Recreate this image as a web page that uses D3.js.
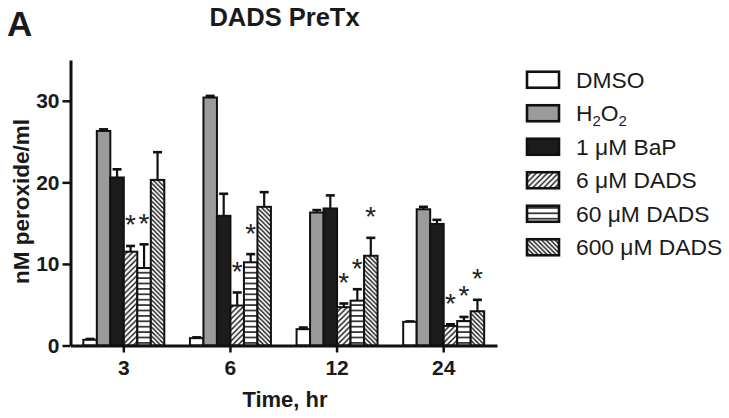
<!DOCTYPE html>
<html><head><meta charset="utf-8">
<script src="https://cdn.jsdelivr.net/npm/d3@7"></script>
<style>
body{margin:0;background:#fff;}
svg text{font-family:"Liberation Sans",Arial,sans-serif;}
</style></head>
<body><svg id="c" width="729" height="418"></svg>
<script>
const categories = ["3","6","12","24"];
const seriesNames = ["DMSO","H2O2","1 μM BaP","6 μM DADS","60 μM DADS","600 μM DADS"];
const dmso      = [0.7, 0.9, 2.0, 2.9];
const h2o2      = [26.3, 30.4, 16.3, 16.7];
const bap       = [20.6, 15.9, 16.8, 14.9];
const dads6     = [11.5, 4.9, 4.7, 2.4];
const dads60    = [9.5, 10.2, 5.5, 3.0];
const dads600   = [20.3, 17.0, 11.0, 4.2];
const dmsoErr   = [0.1, 0.1, 0.2, 0.05];
const h2o2Err   = [0.2, 0.2, 0.3, 0.3];
const bapErr    = [1.0, 2.7, 1.6, 0.5];
const dads6Err  = [0.7, 1.6, 0.45, 0.2];
const dads60Err = [2.9, 1.0, 1.4, 0.5];
const dads600Err= [3.4, 1.8, 2.2, 1.4];
const dmsoSig   = [0,0,0,0];
const h2o2Sig   = [0,0,0,0];
const bapSig    = [0,0,0,0];
const dads6Sig  = [1,1,1,1];
const dads60Sig = [1,1,1,1];
const dads600Sig= [0,0,1,1];
const yTicks = [0,10,20,30];

const values = [dmso,h2o2,bap,dads6,dads60,dads600];
const errs = [dmsoErr,h2o2Err,bapErr,dads6Err,dads60Err,dads600Err];
const sigs = [dmsoSig,h2o2Sig,bapSig,dads6Sig,dads60Sig,dads600Sig];
const fills = ["#ffffff","#9b9b9b","#1c1c1c","url(#pFwd)","url(#pHor)","url(#pBack)"];

const svg = d3.select("#c");
const defs = svg.append("defs");
function diag(id, w, dir){
  const p = defs.append("pattern").attr("id",id).attr("patternUnits","userSpaceOnUse")
    .attr("width",w).attr("height",w);
  p.append("rect").attr("width",w).attr("height",w).attr("fill","#fff");
  const d = dir>0
    ? `M0,${w} L${w},0 M${-w/2},${w/2} L${w/2},${-w/2} M${w/2},${1.5*w} L${1.5*w},${w/2}`
    : `M0,0 L${w},${w} M${-w/2},${w/2} L${w/2},${1.5*w} M${w/2},${-w/2} L${1.5*w},${w/2}`;
  p.append("path").attr("d",d).attr("stroke","#111").attr("stroke-width",1.4);
}
diag("pFwd",5.5,1);
diag("pBack",4.5,-1);
const ph = defs.append("pattern").attr("id","pHor").attr("patternUnits","userSpaceOnUse")
  .attr("width",10).attr("height",5.4);
ph.append("rect").attr("width",10).attr("height",5.4).attr("fill","#fff");
ph.append("line").attr("x1",0).attr("x2",10).attr("y1",2.7).attr("y2",2.7).attr("stroke","#111").attr("stroke-width",1.5);

const x0 = d3.scaleBand().domain(categories).range([70.5,497]).padding(0);
const x1 = d3.scaleBand().domain(seriesNames).range([0,x0.bandwidth()]).paddingInner(0).paddingOuter(0.95);
const y = d3.scaleLinear().domain([0,35]).range([345.5,60]);

const g = svg.append("g");
categories.forEach((c,ci)=>{
  seriesNames.forEach((s,si)=>{
    const v = values[si][ci], e = errs[si][ci];
    const bx = x0(c)+x1(s), bw = x1.bandwidth(), cx = bx+bw/2;
    g.append("line").attr("x1",cx).attr("x2",cx).attr("y1",y(v)).attr("y2",y(v+e))
      .attr("stroke","#111").attr("stroke-width",2.2);
    g.append("line").attr("x1",cx-4.5).attr("x2",cx+4.5).attr("y1",y(v+e)).attr("y2",y(v+e))
      .attr("stroke","#111").attr("stroke-width",2.6);
    g.append("rect").attr("x",bx).attr("y",y(v)).attr("width",bw).attr("height",y(0)-y(v))
      .attr("fill",fills[si]).attr("stroke","#111").attr("stroke-width",2);
    if(sigs[si][ci]){
      g.append("text").attr("x",cx).attr("y",y(v+e)-27+15.4).attr("text-anchor","middle")
        .attr("font-size",28).attr("fill","#222").text("*");
    }
  });
});

const yAxis = svg.append("g").attr("transform","translate(70.5,0)")
  .call(d3.axisLeft(y).tickValues(yTicks).tickSize(8).tickPadding(3).tickSizeOuter(0));
const xAxis = svg.append("g").attr("transform",`translate(0,${y(0)})`)
  .call(d3.axisBottom(x0).tickSize(7).tickPadding(8).tickSizeOuter(0));
[yAxis,xAxis].forEach(a=>{
  a.select(".domain").attr("stroke","#111").attr("stroke-width",3);
  a.selectAll(".tick line").attr("stroke","#111").attr("stroke-width",2.5);
  a.selectAll(".tick text").attr("font-family","Liberation Sans, Arial, sans-serif")
    .attr("font-weight","bold").attr("font-size",21).attr("fill","#1a1a1a");
});

svg.append("text").attr("x",284.5).attr("y",26).attr("text-anchor","middle")
  .attr("font-weight","bold").attr("font-size",25.5).attr("fill","#1a1a1a").text("DADS PreTx");
svg.append("text").attr("x",7).attr("y",36).attr("font-weight","bold")
  .attr("font-size",35).attr("fill","#1a1a1a").text("A");
svg.append("text").attr("transform","translate(29,201.5) rotate(-90)").attr("text-anchor","middle")
  .attr("font-weight","bold").attr("font-size",22.5).attr("fill","#1a1a1a").text("nM peroxide/ml");
svg.append("text").attr("x",285).attr("y",406.5).attr("text-anchor","middle")
  .attr("font-weight","bold").attr("font-size",22).attr("fill","#1a1a1a").text("Time, hr");

const ly = d3.scaleBand().domain(seriesNames).range([63,264]);
seriesNames.forEach((s,si)=>{
  const yy = ly(s)+ly.bandwidth()/2;
  svg.append("rect").attr("x",527).attr("y",yy-8).attr("width",32).attr("height",16)
    .attr("fill",fills[si]).attr("stroke","#111").attr("stroke-width",2.6);
  const t = svg.append("text").attr("x",576).attr("y",yy+8.2).attr("font-size",22.8).attr("fill","#1a1a1a");
  if(s==="H2O2"){
    t.append("tspan").text("H");
    t.append("tspan").attr("font-size",15).attr("dy",5).text("2");
    t.append("tspan").attr("dy",-5).text("O");
    t.append("tspan").attr("font-size",15).attr("dy",5).text("2");
  } else t.text(s);
});
</script></body></html>
